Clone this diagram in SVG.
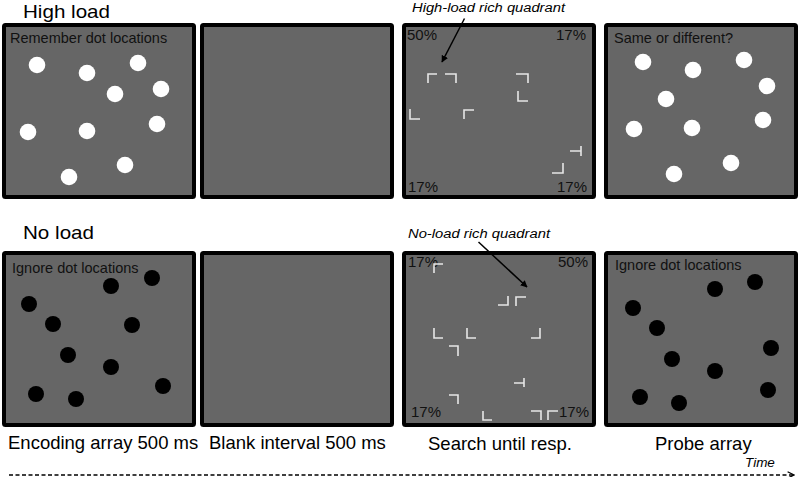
<svg xmlns="http://www.w3.org/2000/svg" width="800" height="477" viewBox="0 0 800 477">
<style>
.panel{fill:#666;stroke:#000;stroke-width:4}
.wd{fill:#fff}
.bd{fill:#000}
.el{fill:none;stroke:#e6e6e6;stroke-width:1.6}
.row{font-family:"Liberation Sans",Arial,sans-serif;font-size:19px;fill:#000}
.inst{font-family:"Liberation Sans",Arial,sans-serif;font-size:14.5px;fill:#111}
.pct{font-family:"Liberation Sans",Arial,sans-serif;font-size:15px;fill:#111}
.cap{font-family:"Liberation Sans",Arial,sans-serif;font-size:18.5px;fill:#000}
.it{font-family:"Liberation Sans",Arial,sans-serif;font-style:italic;fill:#000}
.arr{fill:none;stroke:#000;stroke-width:1.5}
</style>
<defs>
<marker id="ah" viewBox="0 0 10 10" refX="9" refY="5" markerWidth="7" markerHeight="7" orient="auto" markerUnits="userSpaceOnUse">
<path d="M0,0 L10,5 L0,10 z" fill="#000"/>
</marker>
<marker id="ta" viewBox="0 0 10 10" refX="9" refY="5" markerWidth="8" markerHeight="8" orient="auto" markerUnits="userSpaceOnUse">
<path d="M1,1 L9,5 L1,9" fill="none" stroke="#000" stroke-width="1.6"/>
</marker>
</defs>
<rect width="800" height="477" fill="#fff"/>

<text class="row" x="23" y="18" textLength="87" lengthAdjust="spacingAndGlyphs">High load</text>
<text class="row" x="23" y="239" textLength="71" lengthAdjust="spacingAndGlyphs">No load</text>

<g id="hl-encoding">
<rect class="panel" x="4" y="25" width="190" height="172" rx="1.5"/>
<text class="inst" x="10" y="43">Remember dot locations</text>
<circle class="wd" cx="37" cy="65" r="8.3"/>
<circle class="wd" cx="87" cy="73" r="8.3"/>
<circle class="wd" cx="138" cy="63" r="8.3"/>
<circle class="wd" cx="115" cy="94" r="8.3"/>
<circle class="wd" cx="161" cy="89" r="8.3"/>
<circle class="wd" cx="28" cy="132" r="8.3"/>
<circle class="wd" cx="87" cy="131" r="8.3"/>
<circle class="wd" cx="157" cy="124" r="8.3"/>
<circle class="wd" cx="125" cy="165" r="8.3"/>
<circle class="wd" cx="69" cy="177" r="8.3"/>
</g>

<g id="hl-blank">
<rect class="panel" x="202" y="25" width="190" height="172" rx="1.5"/>
</g>

<g id="hl-search">
<rect class="panel" x="404" y="25" width="190" height="172" rx="1.5"/>
<text class="pct" x="407" y="40">50%</text>
<text class="pct" x="556" y="40">17%</text>
<text class="pct" x="408" y="192">17%</text>
<text class="pct" x="557" y="192">17%</text>
<path class="el" d="M437,74 H428 V83 M445,74 H456 V83 M516,74 H528 V83 M518,91 V101 H528 M410,109 V119 H420 M474,110 H464 V119 M581,146 V156 M570,151 H581 M563,163 V173 H552"/>
</g>

<g id="hl-probe">
<rect class="panel" x="606" y="25" width="190" height="172" rx="1.5"/>
<text class="inst" x="614" y="43">Same or different?</text>
<circle class="wd" cx="643" cy="62" r="8.3"/>
<circle class="wd" cx="693" cy="70" r="8.3"/>
<circle class="wd" cx="744" cy="60" r="8.3"/>
<circle class="wd" cx="767" cy="86" r="8.3"/>
<circle class="wd" cx="666" cy="99" r="8.3"/>
<circle class="wd" cx="634" cy="129" r="8.3"/>
<circle class="wd" cx="692" cy="128" r="8.3"/>
<circle class="wd" cx="763" cy="120" r="8.3"/>
<circle class="wd" cx="731" cy="163" r="8.3"/>
<circle class="wd" cx="674" cy="174" r="8.3"/>
</g>

<g id="nl-encoding">
<rect class="panel" x="4" y="253" width="190" height="172" rx="1.5"/>
<text class="inst" x="12" y="273">Ignore dot locations</text>
<circle class="bd" cx="111" cy="286" r="8"/>
<circle class="bd" cx="152" cy="278" r="8"/>
<circle class="bd" cx="29" cy="304" r="8"/>
<circle class="bd" cx="53" cy="324" r="8"/>
<circle class="bd" cx="132" cy="325" r="8"/>
<circle class="bd" cx="68" cy="355" r="8"/>
<circle class="bd" cx="111" cy="367" r="8"/>
<circle class="bd" cx="163" cy="386" r="8"/>
<circle class="bd" cx="36" cy="394" r="8"/>
<circle class="bd" cx="76" cy="399" r="8"/>
</g>

<g id="nl-blank">
<rect class="panel" x="202" y="253" width="190" height="172" rx="1.5"/>
</g>

<g id="nl-search">
<rect class="panel" x="404" y="253" width="190" height="172" rx="1.5"/>
<text class="pct" x="408" y="267">17%</text>
<text class="pct" x="558" y="267">50%</text>
<text class="pct" x="411" y="417">17%</text>
<text class="pct" x="559" y="417">17%</text>
<path class="el" d="M443,264 H434 V273 M508,296 V305 H498 M526,297 H516 V306 M434,328 V338 H443 M467,328 V338 H476 M540,328 V338 H531 M449,346 H458 V356 M524,378 V387 M514,383 H524 M449,395 H458 V404 M483,411 V420 H492 M531,411 H541 V420 M558,411 H548 V420"/>
</g>

<g id="nl-probe">
<rect class="panel" x="606" y="253" width="190" height="172" rx="1.5"/>
<text class="inst" x="615" y="270">Ignore dot locations</text>
<circle class="bd" cx="715" cy="289" r="8"/>
<circle class="bd" cx="755" cy="282" r="8"/>
<circle class="bd" cx="633" cy="308" r="8"/>
<circle class="bd" cx="657" cy="328" r="8"/>
<circle class="bd" cx="771" cy="348" r="8"/>
<circle class="bd" cx="672" cy="359" r="8"/>
<circle class="bd" cx="715" cy="371" r="8"/>
<circle class="bd" cx="768" cy="390" r="8"/>
<circle class="bd" cx="640" cy="397" r="8"/>
<circle class="bd" cx="679" cy="403" r="8"/>
</g>

<text class="it" x="412" y="12" font-size="12.5" textLength="153" lengthAdjust="spacingAndGlyphs">High-load rich quadrant</text>
<text class="it" x="408" y="238" font-size="12.5" textLength="142" lengthAdjust="spacingAndGlyphs">No-load rich quadrant</text>

<text class="cap" x="8" y="449">Encoding array 500 ms</text>
<text class="cap" x="209" y="449">Blank interval 500 ms</text>
<text class="cap" x="428" y="450">Search until resp.</text>
<text class="cap" x="655" y="450">Probe array</text>
<text class="it" x="745" y="467" font-size="13.5">Time</text>

<g id="connectors">
<line class="arr" x1="464.5" y1="18.5" x2="442" y2="62" marker-end="url(#ah)"/>
<line class="arr" x1="478.5" y1="242" x2="527" y2="287" marker-end="url(#ah)"/>
<line class="arr" x1="9" y1="475" x2="794" y2="475" stroke-dasharray="4,2.5" marker-end="url(#ta)"/>
</g>
</svg>
